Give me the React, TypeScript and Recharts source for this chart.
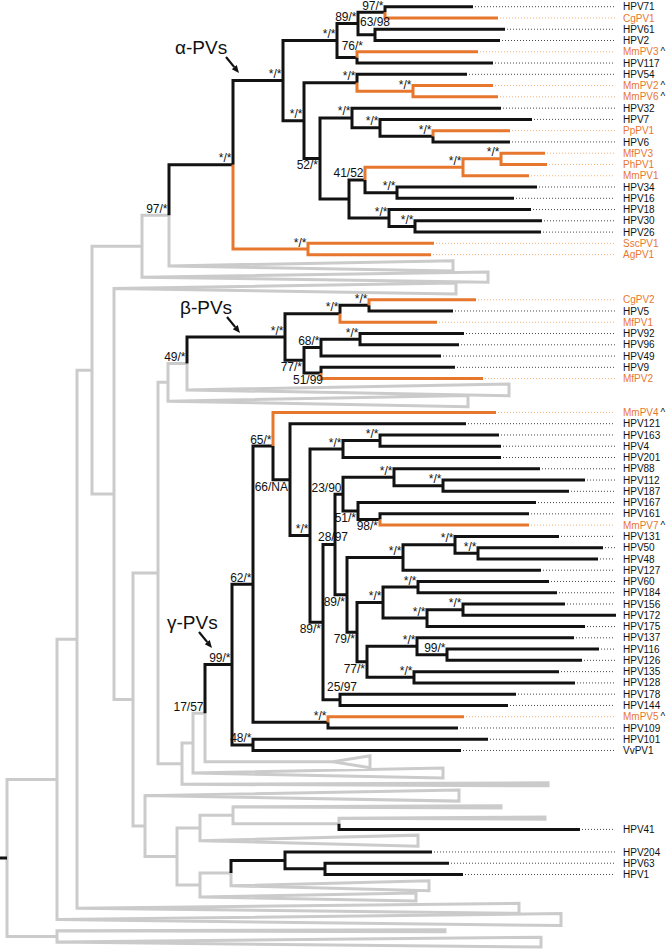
import React from 'react';
import { ComposedChart, Line, Scatter, XAxis, YAxis } from 'recharts';

type Grp = 'k' | 'o' | 'g';
// [id, parent, depth, support, group]
type NodeRow = [string, string | null, number, string, Grp];
// [name, parent, depth, group, caret]
type TipRow = [string, string, number, Grp, number?];
// [row, parent, apexDepth (null = at parent), endDepth, halfSpan (rows)]
type CladeRow = [number, string, number | null, number, number];

const backboneNodes: NodeRow[] = [
  ['R', null, 0.0, '', 'g'],
  ['G57a', 'R', 0.5, '', 'g'],
  ['G57b', 'R', 0.5, '', 'g'],
  ['G77', 'G57a', 0.7, '', 'g'],
  ['G92', 'G77', 0.85, '', 'g'],
  ['G142', 'G92', 1.35, '', 'g'],
  ['G169', 'G142', 1.62, '97/*', 'g'],
  ['G114', 'G92', 1.07, '', 'g'],
  ['G133', 'G114', 1.26, '', 'g'],
  ['G158', 'G133', 1.51, '', 'g'],
  ['G168', 'G158', 1.61, '', 'g'],
  ['G187', 'G168', 1.8, '49/*', 'g'],
  ['G181', 'G158', 1.75, '', 'g'],
  ['G193', 'G181', 1.86, '', 'g'],
  ['G205', 'G193', 1.98, '17/57', 'g'],
  ['G145', 'G133', 1.38, '', 'g'],
  ['G177', 'G145', 1.7, '', 'g'],
  ['G200a', 'G177', 1.93, '', 'g'],
  ['G233', 'G200a', 2.26, '', 'g'],
  ['N339', 'G233', 3.32, '', 'g'],
  ['G200b', 'G177', 1.93, '', 'g'],
  ['N231', 'G200b', 2.24, '', 'g'],
];

const alphaNodes: NodeRow[] = [
  ['A0', 'G169', 2.26, '*/*', 'k'],
  ['A1', 'A0', 2.76, '*/*', 'k'],
  ['A2', 'A1', 3.3, '*/*', 'k'],
  ['A3', 'A2', 3.51, '89/*', 'k'],
  ['A4', 'A3', 3.78, '97/*', 'k'],
  ['A5', 'A3', 3.68, '63/98', 'k'],
  ['A6', 'A2', 3.5, '76/*', 'k'],
  ['A7', 'A1', 2.97, '*/*', 'k'],
  ['A8', 'A7', 3.5, '*/*', 'k'],
  ['A9', 'A8', 4.06, '*/*', 'o'],
  ['A10', 'A7', 3.13, '52/*', 'k'],
  ['A11', 'A10', 3.45, '*/*', 'k'],
  ['A12', 'A11', 3.73, '*/*', 'k'],
  ['A13', 'A12', 4.26, '*/*', 'k'],
  ['A14', 'A10', 3.42, '', 'k'],
  ['A15', 'A14', 3.58, '41/52', 'k'],
  ['A16', 'A15', 4.56, '*/*', 'o'],
  ['A17', 'A16', 4.94, '*/*', 'o'],
  ['A18', 'A15', 3.9, '*/*', 'k'],
  ['A19', 'A14', 3.82, '*/*', 'k'],
  ['A20', 'A19', 4.08, '*/*', 'k'],
  ['A21', 'A0', 3.01, '*/*', 'o'],
];

const betaNodes: NodeRow[] = [
  ['B0', 'G187', 2.78, '*/*', 'k'],
  ['B1', 'B0', 3.33, '*/*', 'k'],
  ['B2', 'B1', 3.62, '*/*', 'k'],
  ['B3', 'B0', 2.97, '77/*', 'k'],
  ['B4', 'B3', 3.14, '68/*', 'k'],
  ['B5', 'B4', 3.53, '*/*', 'k'],
  ['B6', 'B3', 3.14, '51/99', 'k'],
];

const gammaNodes: NodeRow[] = [
  ['C0', 'G205', 2.25, '99/*', 'k'],
  ['C1', 'C0', 2.46, '62/*', 'k'],
  ['C2', 'C1', 2.66, '65/*', 'k'],
  ['C3', 'C2', 2.83, '66/NA', 'k'],
  ['C4', 'C3', 3.03, '*/*', 'k'],
  ['C5', 'C4', 3.36, '*/*', 'k'],
  ['C6', 'C5', 3.73, '*/*', 'k'],
  ['C7', 'C4', 3.16, '89/*', 'k'],
  ['C8', 'C7', 3.28, '28/97', 'k'],
  ['C9', 'C8', 3.36, '23/90', 'k'],
  ['C10', 'C9', 3.87, '*/*', 'k'],
  ['C11', 'C10', 4.36, '*/*', 'k'],
  ['C12', 'C9', 3.51, '51/*', 'k'],
  ['C13', 'C12', 3.73, '98/*', 'k'],
  ['C14', 'C8', 3.4, '89/*', 'k'],
  ['C15', 'C14', 3.96, '*/*', 'k'],
  ['C16', 'C15', 4.48, '*/*', 'k'],
  ['C17', 'C16', 4.71, '*/*', 'k'],
  ['C18', 'C14', 3.5, '79/*', 'k'],
  ['C19', 'C18', 3.76, '*/*', 'k'],
  ['C20', 'C19', 4.11, '*/*', 'k'],
  ['C21', 'C19', 4.2, '*/*', 'k'],
  ['C22', 'C21', 4.56, '*/*', 'k'],
  ['C23', 'C18', 3.6, '77/*', 'k'],
  ['C24', 'C23', 4.1, '*/*', 'k'],
  ['C25', 'C24', 4.4, '99/*', 'k'],
  ['C26', 'C23', 4.07, '*/*', 'k'],
  ['C27', 'C7', 3.33, '25/97', 'k'],
  ['C28', 'C1', 3.21, '*/*', 'k'],
  ['C29', 'C0', 2.46, '48/*', 'k'],
];

const outerNodes: NodeRow[] = [
  ['K0', 'N231', 2.78, '', 'k'],
  ['K1', 'K0', 3.18, '', 'k'],
];

const alphaTips: TipRow[] = [
  ['HPV71', 'A4', 4.66, 'k'],
  ['CgPV1', 'A4', 4.91, 'o'],
  ['HPV61', 'A5', 4.98, 'k'],
  ['HPV2', 'A5', 4.93, 'k'],
  ['MmPV3', 'A6', 4.71, 'o', 1],
  ['HPV117', 'A6', 4.86, 'k'],
  ['HPV54', 'A8', 4.6, 'k'],
  ['MmPV2', 'A9', 4.86, 'o', 1],
  ['MmPV6', 'A9', 4.91, 'o', 1],
  ['HPV32', 'A11', 4.94, 'k'],
  ['HPV7', 'A12', 5.25, 'k'],
  ['PpPV1', 'A13', 5.03, 'o'],
  ['HPV6', 'A13', 5.03, 'k'],
  ['MfPV3', 'A17', 5.38, 'o'],
  ['PhPV1', 'A17', 5.4, 'o'],
  ['MmPV1', 'A16', 5.22, 'o'],
  ['HPV34', 'A18', 5.3, 'k'],
  ['HPV16', 'A18', 5.07, 'k'],
  ['HPV18', 'A19', 5.24, 'k'],
  ['HPV30', 'A20', 5.35, 'k'],
  ['HPV26', 'A20', 5.34, 'k'],
  ['SscPV1', 'A21', 4.27, 'o'],
  ['AgPV1', 'A21', 4.24, 'o'],
];

const betaTips: TipRow[] = [
  ['CgPV2', 'B2', 4.69, 'o'],
  ['HPV5', 'B2', 4.46, 'k'],
  ['MfPV1', 'B1', 4.3, 'o'],
  ['HPV92', 'B5', 4.57, 'k'],
  ['HPV96', 'B5', 4.52, 'k'],
  ['HPV49', 'B4', 4.34, 'k'],
  ['HPV9', 'B6', 4.48, 'k'],
  ['MfPV2', 'B6', 4.76, 'o'],
];

const gammaTips: TipRow[] = [
  ['MmPV4', 'C2', 4.89, 'o', 1],
  ['HPV121', 'C3', 4.59, 'k'],
  ['HPV163', 'C6', 4.92, 'k'],
  ['HPV4', 'C6', 4.94, 'k'],
  ['HPV201', 'C5', 4.94, 'k'],
  ['HPV88', 'C10', 5.33, 'k'],
  ['HPV112', 'C11', 5.78, 'k'],
  ['HPV187', 'C11', 5.62, 'k'],
  ['HPV167', 'C12', 5.29, 'k'],
  ['HPV161', 'C13', 5.22, 'k'],
  ['MmPV7', 'C13', 5.22, 'o', 1],
  ['HPV131', 'C16', 5.52, 'k'],
  ['HPV50', 'C17', 5.96, 'k'],
  ['HPV48', 'C17', 5.91, 'k'],
  ['HPV127', 'C15', 5.34, 'k'],
  ['HPV60', 'C20', 5.42, 'k'],
  ['HPV184', 'C20', 5.5, 'k'],
  ['HPV156', 'C22', 5.58, 'k'],
  ['HPV172', 'C22', 6.09, 'k'],
  ['HPV175', 'C21', 5.78, 'k'],
  ['HPV137', 'C24', 5.67, 'k'],
  ['HPV116', 'C25', 5.92, 'k'],
  ['HPV126', 'C25', 5.75, 'k'],
  ['HPV135', 'C26', 5.52, 'k'],
  ['HPV128', 'C26', 5.68, 'k'],
  ['HPV178', 'C27', 5.09, 'k'],
  ['HPV144', 'C27', 5.01, 'k'],
  ['MmPV5', 'C28', 4.57, 'o', 1],
  ['HPV109', 'C28', 4.51, 'k'],
  ['HPV101', 'C29', 4.81, 'k'],
  ['VvPV1', 'C29', 4.54, 'k'],
];

const outerTips: TipRow[] = [
  ['HPV41', 'N339', 5.73, 'k'],
  ['HPV204', 'K0', 4.25, 'k'],
  ['HPV63', 'K1', 4.42, 'k'],
  ['HPV1', 'K1', 4.56, 'k'],
];

const collapsedClades: CladeRow[] = [
  [23, 'G169', null, 4.46, 0.45],
  [24, 'G142', null, 4.81, 0.45],
  [25, 'G114', null, 4.49, 0.49],
  [34, 'G187', null, 5.02, 0.53],
  [35, 'G168', null, 4.61, 0.49],
  [67, 'G205', 3.26, 3.63, 0.53],
  [68, 'G193', null, 4.36, 0.44],
  [69, 'G181', null, 5.41, 0.13],
  [70, 'G145', null, 4.52, 0.49],
  [71, 'G233', null, 4.94, 0.1],
  [72, 'N339', null, 5.38, 0.09],
  [74, 'G200a', null, 4.11, 0.49],
  [78, 'N231', null, 4.22, 0.44],
  [79, 'G200b', null, 4.09, 0.35],
  [80, 'G77', null, 5.12, 0.44],
  [81, 'G57a', null, 5.54, 0.53],
  [82, 'G57b', null, 4.38, 0.09],
  [83, 'G57b', null, 5.34, 0.44],
];

// clade tags: label, arrow tip (depth, row), text offset
const cladeTags = [
  { label: 'α-PVs', x: 2.32, y: 5.88, tx: -64 },
  { label: 'β-PVs', x: 2.33, y: 28.95, tx: -60 },
  { label: 'γ-PVs', x: 2.05, y: 56.9, tx: -45 },
];

const belowLabels = ['A10', 'B3', 'C3', 'C7', 'C12', 'C13', 'C14', 'C18', 'C23'];
const labelNudge: Record<string, [number, number]> = {
  A5: [15, -9],
  A6: [6, -7],
  B6: [2, 11],
  C8: [13, -3.5],
  C27: [17, -9],
};

const COLORS: Record<Grp, string> = { k: '#121212', o: '#E8772E', g: '#CBCBCB' };
const LEADER: Record<Grp, string> = { k: '#4a4a4a', o: '#F2B27A', g: '#CBCBCB' };
const FONT = '"Liberation Sans", Arial, Helvetica, sans-serif';
const LEADER_END = 6.08;
const LABEL_X = 6.16;
const X_DOMAIN: [number, number] = [-0.07, 6.59];
const Y_DOMAIN: [number, number] = [-0.594, 83.7];

// ---- layout from data ----
const nodes = [...backboneNodes, ...alphaNodes, ...betaNodes, ...gammaNodes, ...outerNodes].map(
  ([id, parent, d, label, g]) => ({ id, parent, d, label, g })
);
const byId = new Map(nodes.map((n) => [n.id, n]));
const cladeRowSet = new Set(collapsedClades.map((c) => c[0]));
let cursor = 0;
const tipItems = [...alphaTips, ...betaTips, ...gammaTips, ...outerTips].map(([name, parent, d, g, caret]) => {
  while (cladeRowSet.has(cursor)) cursor++;
  const row = cursor++;
  return { name, parent, d, g, caret: !!caret, row };
});

const leafRows = new Map<string, number[]>();
const kidNodes = new Map<string, string[]>();
const push = <T,>(m: Map<string, T[]>, k: string, v: T) => {
  if (!m.has(k)) m.set(k, []);
  m.get(k)!.push(v);
};
tipItems.forEach((t) => push(leafRows, t.parent, t.row));
collapsedClades.forEach((c) => push(leafRows, c[1], c[0]));
nodes.forEach((n) => n.parent && push(kidNodes, n.parent, n.id));

const rowCache = new Map<string, number>();
function rowOf(id: string): number {
  if (rowCache.has(id)) return rowCache.get(id)!;
  const rows = [...(leafRows.get(id) || []), ...(kidNodes.get(id) || []).map(rowOf)];
  const r = (Math.min(...rows) + Math.max(...rows)) / 2;
  rowCache.set(id, r);
  return r;
}

type P = { x: number; y: number | null };
const edgePaths: Record<Grp, P[]> = { g: [], k: [], o: [] };
const leaderPaths: Record<Grp, P[]> = { g: [], k: [], o: [] };
const addPath = (target: P[], pts: P[]) => {
  const clean: P[] = [];
  pts.forEach((p) => {
    const last = clean[clean.length - 1];
    if (!last || last.x !== p.x || last.y !== p.y) clean.push(p);
  });
  target.push(...clean, { x: clean[clean.length - 1].x, y: null });
};

const rootRow = rowOf('R');
addPath(edgePaths.k, [
  { x: X_DOMAIN[0], y: rootRow },
  { x: 0, y: rootRow },
]);

nodes.forEach((n) => {
  if (!n.parent) return;
  const p = byId.get(n.parent)!;
  const pr = rowOf(p.id);
  const r = rowOf(n.id);
  addPath(edgePaths[n.g], [
    { x: p.d, y: pr },
    { x: p.d, y: r },
    { x: n.d, y: r },
  ]);
});

tipItems.forEach((t) => {
  const p = byId.get(t.parent)!;
  const pr = rowOf(p.id);
  addPath(edgePaths[t.g], [
    { x: p.d, y: pr },
    { x: p.d, y: t.row },
    { x: t.d, y: t.row },
  ]);
  if (t.d < LEADER_END - 0.02) {
    addPath(leaderPaths[t.g], [
      { x: t.d + 0.02, y: t.row },
      { x: LEADER_END, y: t.row },
    ]);
  }
});

collapsedClades.forEach(([row, parent, apex, end, half]) => {
  const p = byId.get(parent)!;
  const pr = rowOf(p.id);
  const a = apex == null ? p.d : apex;
  addPath(edgePaths.g, [
    { x: p.d, y: pr },
    { x: p.d, y: row },
    { x: a, y: row },
    { x: end, y: row - half },
    { x: end, y: row + half },
    { x: a, y: row },
  ]);
});

const tipLabelData = tipItems.map((t) => ({ x: LABEL_X, y: t.row, name: t.name, g: t.g, caret: t.caret }));
const supportData = nodes
  .filter((n) => n.label)
  .map((n) => ({
    x: n.d,
    y: rowOf(n.id),
    label: n.label,
    nudge: labelNudge[n.id] || (belowLabels.includes(n.id) ? [-2, 11] : [-1.5, -2.5]),
  }));

const TipLabel = (props: any) => {
  const { cx, cy, payload } = props;
  if (cx == null || cy == null) return null;
  return (
    <text x={cx} y={cy + 3.6} fontSize={10} fontFamily={FONT}>
      <tspan fill={payload.g === 'o' ? COLORS.o : '#111'}>{payload.name}</tspan>
      {payload.caret ? (
        <tspan fill="#111" dx={2}>
          ^
        </tspan>
      ) : null}
    </text>
  );
};

const SupportLabel = (props: any) => {
  const { cx, cy, payload } = props;
  if (cx == null || cy == null) return null;
  const [dx, dy] = payload.nudge;
  return (
    <text x={cx + dx} y={cy + dy} textAnchor="end" fontSize={12} fontFamily={FONT} fill="#111">
      {payload.label}
    </text>
  );
};

const TagShape = (props: any) => {
  const { cx, cy, payload } = props;
  if (cx == null || cy == null) return null;
  const tx = cx - 13;
  const ty = cy - 16;
  const len = Math.hypot(cx - tx, cy - ty);
  const ux = (cx - tx) / len;
  const uy = (cy - ty) / len;
  const hl = 7.5;
  const hw = 3.2;
  const bx = cx - ux * hl;
  const by = cy - uy * hl;
  const pts = `${cx},${cy} ${bx - uy * hw},${by + ux * hw} ${bx + uy * hw},${by - ux * hw}`;
  return (
    <g>
      <text x={cx + payload.tx} y={cy - 18.5} fontSize={19} fontFamily={FONT} fill="#111">
        {payload.label}
      </text>
      <line x1={tx} y1={ty} x2={bx} y2={by} stroke="#111" strokeWidth={2.2} />
      <polygon points={pts} fill="#111" />
    </g>
  );
};

export default function App() {
  return (
    <div style={{ position: 'absolute', left: 0, top: 0, background: '#fff' }}>
      <ComposedChart width={666} height={950} margin={{ top: 0, right: 0, bottom: 0, left: 0 }}>
        <XAxis type="number" dataKey="x" domain={X_DOMAIN} hide allowDataOverflow />
        <YAxis type="number" dataKey="y" domain={Y_DOMAIN} reversed hide allowDataOverflow />
        {(['k', 'o'] as Grp[]).map((g) => (
          <Line
            key={'lead-' + g}
            data={leaderPaths[g]}
            dataKey="y"
            type="linear"
            stroke={LEADER[g]}
            strokeWidth={1}
            strokeDasharray="1 2"
            dot={false}
            activeDot={false}
            isAnimationActive={false}
          />
        ))}
        {(['g', 'k', 'o'] as Grp[]).map((g) => (
          <Line
            key={'edge-' + g}
            data={edgePaths[g]}
            dataKey="y"
            type="linear"
            stroke={COLORS[g]}
            strokeWidth={3}
            strokeLinejoin="miter"
            dot={false}
            activeDot={false}
            isAnimationActive={false}
          />
        ))}
        <Scatter data={tipLabelData} shape={TipLabel} isAnimationActive={false} />
        <Scatter data={supportData} shape={SupportLabel} isAnimationActive={false} />
        <Scatter data={cladeTags} shape={TagShape} isAnimationActive={false} />
      </ComposedChart>
    </div>
  );
}
